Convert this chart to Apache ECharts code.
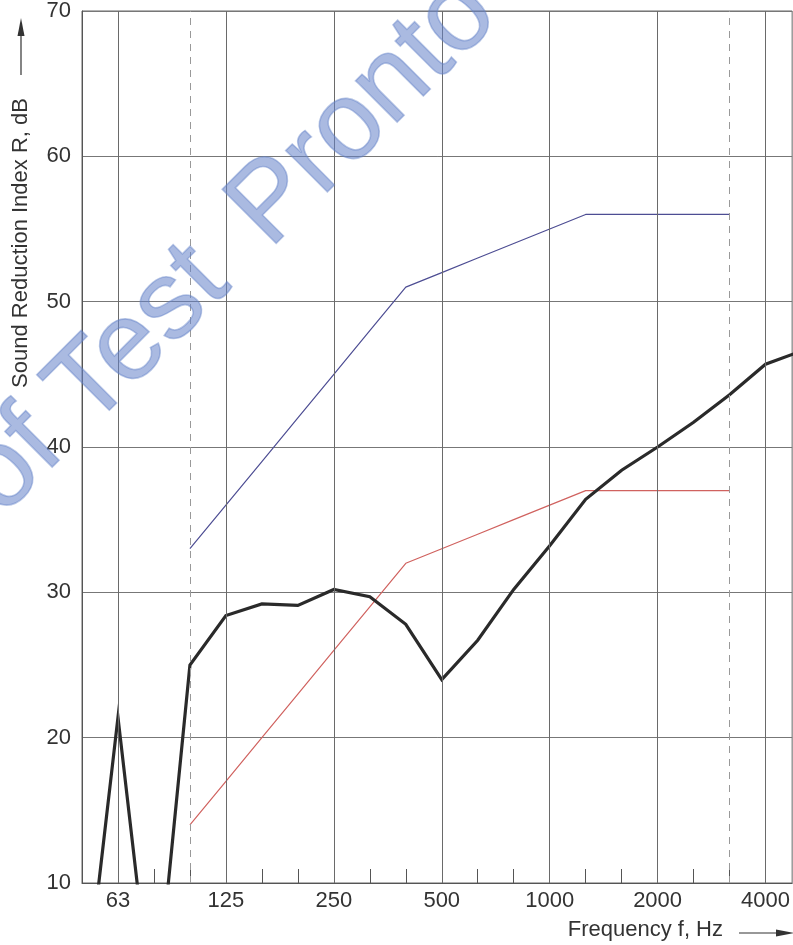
<!DOCTYPE html>
<html>
<head>
<meta charset="utf-8">
<script src="https://cdn.jsdelivr.net/npm/echarts@6/dist/echarts.min.js"></script>
<style>
html,body{margin:0;padding:0;background:#fff;}
#chart{width:793px;height:945px;}
</style>
</head>
<body>
<div id="chart"></div>
<script>
// Third-octave band centre frequencies (axis position = index in this list)
const bandFreqs = [50, 63, 80, 100, 125, 160, 200, 250, 315, 400, 500, 630, 800, 1000, 1250, 1600, 2000, 2500, 3150, 4000, 5000];
// Measured sound reduction index R (dB), one value per band above
const measured = [0, 21.4, 0, 25.0, 28.4, 29.2, 29.1, 30.2, 29.7, 27.8, 24.0, 26.7, 30.2, 33.2, 36.4, 38.4, 40.0, 41.7, 43.6, 45.7, 46.6];
// Reference curves, bands 100 Hz .. 3150 Hz
const refBands = [100, 125, 160, 200, 250, 315, 400, 500, 630, 800, 1000, 1250, 1600, 2000, 2500, 3150];
const refUpper = [33, 36, 39, 42, 45, 48, 51, 52, 53, 54, 55, 56, 56, 56, 56, 56];
const refLower = [14, 17, 20, 23, 26, 29, 32, 33, 34, 35, 36, 37, 37, 37, 37, 37];
// Tick labels / grid lines
const octaveLabels = [63, 125, 250, 500, 1000, 2000, 4000];
const dashedBands = [100, 3150];
const yTicks = [10, 20, 30, 40, 50, 60, 70];

const idx = f => bandFreqs.indexOf(f);
const measuredData = measured.map((v, i) => [i, v]);
const upperData = refUpper.map((v, i) => [idx(refBands[i]), v]);
const lowerData = refLower.map((v, i) => [idx(refBands[i]), v]);

const FONT = 'Liberation Sans, Arial, sans-serif';
const chart = echarts.init(document.getElementById('chart'), null, {renderer: 'canvas'});

const wmStyle = (t) => ({text: t, fontSize: 111, fontFamily: FONT,
  fill: 'rgba(100,130,200,0.55)', stroke: 'rgba(100,130,200,0.45)', lineWidth: 1.6,
  align: 'left', verticalAlign: 'middle', textAlign: 'left', textVerticalAlign: 'middle'});

const option = {
  animation: false,
  backgroundColor: '#fff',
  grid: {left: 82, right: -3, top: 11, bottom: 62, show: true, borderColor: '#666', borderWidth: 1, containLabel: false},
  xAxis: {
    type: 'value', min: 0, max: 19.74, interval: 1,
    axisLine: {show: true, lineStyle: {color: '#555', width: 1}},
    axisTick: {show: true, inside: true, length: 14, lineStyle: {color: '#555', width: 1}},
    splitLine: {show: false},
    axisLabel: {
      show: true, margin: 7, color: '#333', fontSize: 22, fontFamily: FONT,
      showMaxLabel: false, showMinLabel: true,
      formatter: function (v) {
        const f = bandFreqs[Math.round(v)];
        if (Math.abs(v - Math.round(v)) > 1e-6) return '';
        return octaveLabels.indexOf(f) >= 0 ? String(f) : '';
      }
    }
  },
  yAxis: {
    type: 'value', min: yTicks[0], max: yTicks[yTicks.length - 1], interval: 10,
    axisLine: {show: true, lineStyle: {color: '#555', width: 1}},
    axisTick: {show: false},
    axisLabel: {margin: 11, color: '#333', fontSize: 22, fontFamily: FONT},
    splitLine: {show: true, lineStyle: {color: '#777', width: 1}}
  },
  series: [
    {
      name: 'grid', type: 'line', data: [], silent: true,
      markLine: {
        silent: true, symbol: 'none', label: {show: false},
        data: octaveLabels.map(f => ({xAxis: idx(f), lineStyle: {color: '#6a6a6a', width: 1, type: 'solid'}}))
          .concat(dashedBands.map(f => ({xAxis: idx(f), lineStyle: {color: '#999', width: 1, type: [7, 6]}})))
      }
    },
    {
      name: 'Reference upper', type: 'line', data: upperData, symbol: 'none', z: 3,
      lineStyle: {color: '#4d4d93', width: 1.2}
    },
    {
      name: 'Reference lower', type: 'line', data: lowerData, symbol: 'none', z: 3,
      lineStyle: {color: '#d0625f', width: 1.2}
    },
    {
      name: 'Measured', type: 'line', data: measuredData, symbol: 'none', z: 4, clip: true,
      lineStyle: {color: '#2a2a2a', width: 3.2, join: 'miter'}
    }
  ],
  graphic: [
    {type: 'text', x: -20, y: 496, rotation: Math.PI / 4, z: 50, silent: true, style: wmStyle('of Test')},
    {type: 'text', x: 248, y: 228, rotation: Math.PI / 4, z: 50, silent: true, style: wmStyle('Pronto')},
    {
      type: 'text', x: 21, y: 243, rotation: Math.PI / 2, z: 60,
      style: {text: 'Sound Reduction Index R, dB', fontSize: 22, fontFamily: FONT, fill: '#333',
        align: 'center', verticalAlign: 'middle', textAlign: 'center', textVerticalAlign: 'middle'}
    },
    {type: 'line', z: 60, shape: {x1: 21, y1: 75, x2: 21, y2: 32}, style: {stroke: '#333', lineWidth: 1.2}},
    {type: 'polygon', z: 60, shape: {points: [[21, 18], [17.5, 36], [24.5, 36]]}, style: {fill: '#333'}},
    {
      type: 'text', x: 723, y: 930, z: 60,
      style: {text: 'Frequency f, Hz', fontSize: 22, fontFamily: FONT, fill: '#333',
        align: 'right', verticalAlign: 'middle', textAlign: 'right', textVerticalAlign: 'middle'}
    },
    {type: 'line', z: 60, shape: {x1: 739, y1: 933, x2: 780, y2: 933}, style: {stroke: '#333', lineWidth: 1.2}},
    {type: 'polygon', z: 60, shape: {points: [[794, 933], [776, 929.5], [776, 936.5]]}, style: {fill: '#333'}}
  ]
};
chart.setOption(option);
</script>
</body>
</html>
